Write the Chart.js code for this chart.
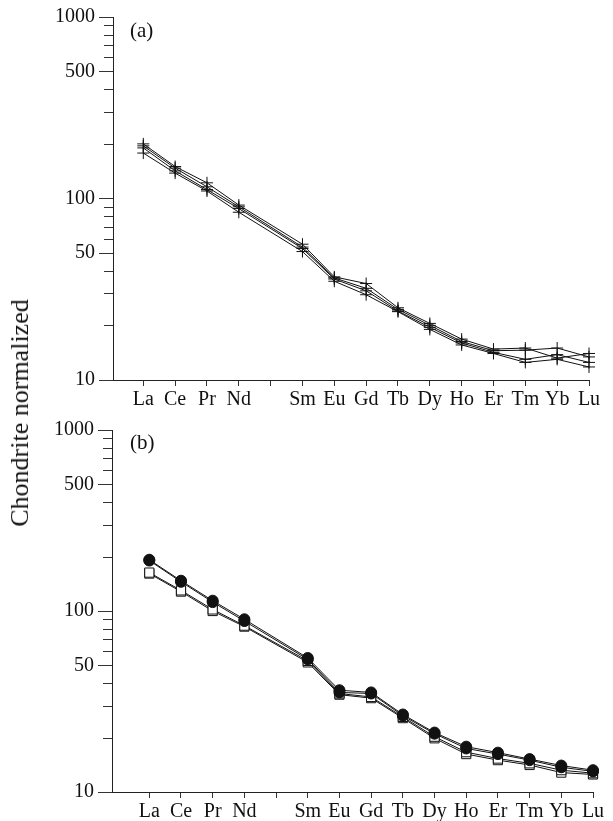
<!DOCTYPE html>
<html lang="en">
<head>
    <meta charset="UTF-8">
    <title>Chondrite normalized REE patterns</title>
    <script src="https://cdn.jsdelivr.net/npm/chart.js"></script>
    <style>
        body { margin: 0; background: #fff; }
        #wrap { position: relative; width: 613px; height: 821px; font-family: "Liberation Serif", "Times New Roman", serif; color: #111; }
        canvas { position: absolute; left: 0; }
        .panel-tag { position: absolute; font-size: 21px; }
        #ytitle { position: absolute; left: 20px; top: 413px; font-size: 26px; white-space: nowrap;
                  transform: translate(-50%, -50%) rotate(-90deg); }
    </style>
</head>
<body>
<div id="wrap">
    <canvas id="chartA" width="613" height="410" style="top:0"></canvas>
    <canvas id="chartB" width="613" height="411" style="top:410px"></canvas>
    <div class="panel-tag" style="left:130px; top:18px">(a)</div>
    <div class="panel-tag" style="left:130px; top:430px">(b)</div>
    <div id="ytitle">Chondrite normalized</div>
</div>

<script>
    // REE along the x axis (Pm position left blank)
    const elements = ['La', 'Ce', 'Pr', 'Nd', '', 'Sm', 'Eu', 'Gd', 'Tb', 'Dy', 'Ho', 'Er', 'Tm', 'Yb', 'Lu'];
    const yLabels = [10, 50, 100, 500, 1000];
    const yTicks = [10, 20, 30, 40, 50, 60, 70, 80, 90, 100, 200, 300, 400, 500, 600, 700, 800, 900, 1000];

    // panel (a) samples, crosses
    const a1 = [200, 150, 122, 92, null, 56, 37, 34, 25, 20.5, 16.8, 14.8, 15.0, 13.2, 14.0];
    const a2 = [195, 147, 116, 90, null, 54, 36.5, 32, 24.5, 20, 16.3, 14.5, 14.6, 15.0, 13.4];
    const a3 = [190, 142, 112, 88, null, 53, 36, 31, 24, 19.5, 16, 14.2, 13.0, 13.8, 12.5];
    const a4 = [178, 138, 110, 84, null, 51, 35, 29.5, 23.8, 19, 15.6, 14.0, 12.5, 13.0, 11.8];

    // panel (b) samples, filled circles and open squares
    const b1 = [192, 147, 114, 90, null, 55, 36.5, 35.5, 26.8, 21.3, 17.8, 16.5, 15.2, 14.0, 13.2];
    const b2 = [190, 145, 112, 88, null, 54, 35.5, 35, 26.4, 21.0, 17.4, 16.2, 15.0, 13.7, 13.0];
    const b3 = [163, 130, 102, 83, null, 53, 35, 33.5, 26.0, 20.2, 16.6, 15.3, 14.4, 13.2, 12.7];
    const b4 = [161, 128, 100, 82, null, 52, 34.5, 33, 25.6, 19.8, 16.2, 15.0, 14.1, 12.8, 12.5];

    function toPoints(arr) {
        const pts = [];
        arr.forEach((v, i) => { if (v !== null) pts.push({ x: i, y: v }); });
        return pts;
    }

    // minor log ticks are shorter than the labelled ones
    const minorTicks = {
        id: 'minorTicks',
        afterDraw(chart) {
            const y = chart.scales.y;
            const ctx = chart.ctx;
            ctx.save();
            ctx.strokeStyle = '#333';
            ctx.lineWidth = 1;
            y.ticks.forEach(t => {
                if (yLabels.includes(t.value)) return;
                const py = Math.round(y.getPixelForValue(t.value)) + 0.5;
                ctx.beginPath();
                ctx.moveTo(y.right - 9, py);
                ctx.lineTo(y.right, py);
                ctx.stroke();
            });
            ctx.restore();
        }
    };

    function makeChart(id, datasets, xMin, yWidth, xHeight, pad) {
        return new Chart(document.getElementById(id), {
            type: 'line',
            data: { datasets: datasets },
            options: {
                responsive: false,
                animation: false,
                layout: { padding: pad },
                plugins: { legend: { display: false }, tooltip: { enabled: false } },
                elements: { line: { borderWidth: 1, tension: 0 } },
                scales: {
                    x: {
                        type: 'linear',
                        min: xMin,
                        max: 14,
                        afterBuildTicks: s => { s.ticks = elements.map((_, i) => ({ value: i })); },
                        afterFit: s => { s.height = xHeight; },
                        grid: { drawOnChartArea: false, tickLength: 6, color: '#333' },
                        border: { color: '#222', width: 1 },
                        ticks: {
                            autoSkip: false,
                            maxRotation: 0,
                            padding: 2,
                            color: '#111',
                            font: { family: 'Liberation Serif', size: 20 },
                            callback: v => elements[v] || ''
                        }
                    },
                    y: {
                        type: 'logarithmic',
                        min: 10,
                        max: 1000,
                        afterBuildTicks: s => { s.ticks = yTicks.map(v => ({ value: v })); },
                        afterFit: s => { s.width = yWidth; },
                        grid: {
                            drawOnChartArea: false,
                            tickLength: 14,
                            tickColor: c => yLabels.includes(c.tick.value) ? '#333' : 'rgba(0,0,0,0)'
                        },
                        border: { color: '#222', width: 1 },
                        ticks: {
                            autoSkip: false,
                            padding: 4,
                            color: '#111',
                            font: { family: 'Liberation Serif', size: 20 },
                            callback: v => yLabels.includes(v) ? String(v) : ''
                        }
                    }
                }
            },
            plugins: [minorTicks]
        });
    }

    function crossSet(arr) {
        return {
            data: toPoints(arr), borderColor: '#111', pointStyle: 'cross', pointRadius: 6,
            pointBorderWidth: 1, pointBorderColor: '#111', clip: false
        };
    }

    makeChart('chartA', [crossSet(a1), crossSet(a2), crossSet(a3), crossSet(a4)],
        -0.952, 113, 30, { top: 17, right: 24, left: 0, bottom: 0 });

    const circle = arr => ({
        data: toPoints(arr), borderColor: '#111', pointStyle: 'circle', pointRadius: 5.5,
        pointBackgroundColor: '#111', pointBorderColor: '#111', pointBorderWidth: 1, clip: false
    });
    const square = arr => ({
        data: toPoints(arr), borderColor: '#111', pointStyle: 'rect', pointRadius: 6.5,
        pointBackgroundColor: '#fff', pointBorderColor: '#111', pointBorderWidth: 1, clip: false
    });

    makeChart('chartB', [circle(b1), circle(b2), square(b3), square(b4)],
        -1.177, 112, 29, { top: 20, right: 20, left: 0, bottom: 0 });
</script>
</body>
</html>
